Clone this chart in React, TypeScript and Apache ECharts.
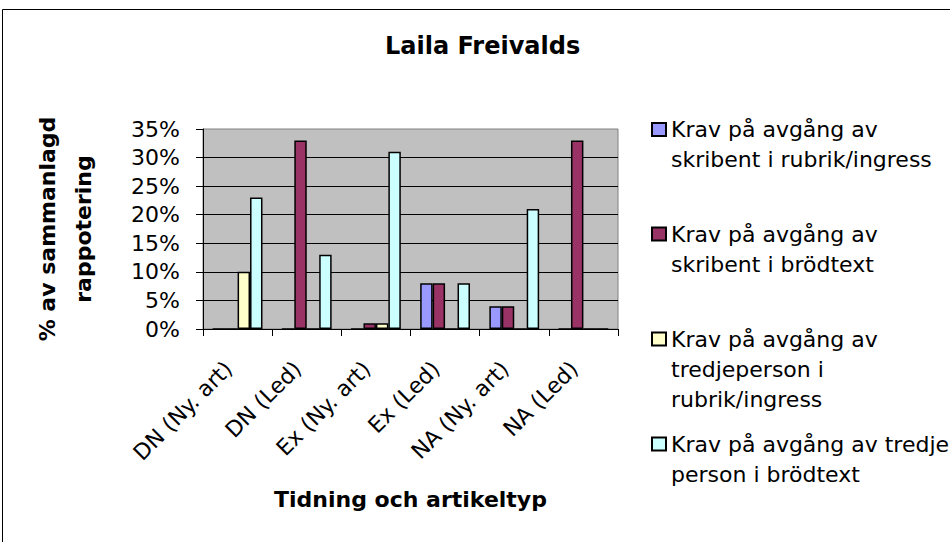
import React, { useEffect, useRef } from "react";
import * as echarts from "echarts";

const categories = ["DN (Ny. art)", "DN (Led)", "Ex (Ny. art)", "Ex (Led)", "NA (Ny. art)", "NA (Led)"];

const seriesNames = [
  "Krav på avgång av skribent i rubrik/ingress",
  "Krav på avgång av skribent i brödtext",
  "Krav på avgång av tredjeperson i rubrik/ingress",
  "Krav på avgång av tredje person i brödtext",
];

// Legend text lines as wrapped in the reference
const legendLines = [
  ["Krav på avgång av", "skribent i rubrik/ingress"],
  ["Krav på avgång av", "skribent i brödtext"],
  ["Krav på avgång av", "tredjeperson i", "rubrik/ingress"],
  ["Krav på avgång av tredje", "person i brödtext"],
];

const skribentRubrik = [0, 0, 0, 8, 4, 0];
const skribentBrodtext = [0, 33, 1, 8, 4, 33];
const tredjeRubrik = [10, 0, 1, 0, 0, 0];
const tredjeBrodtext = [23, 13, 31, 8, 21, 0];

const seriesValues = [skribentRubrik, skribentBrodtext, tredjeRubrik, tredjeBrodtext];
const seriesColors = ["#9999FF", "#993366", "#FFFFCC", "#CCFFFF"];

const yTicks = [0, 5, 10, 15, 20, 25, 30, 35];

const FONT = "DejaVu Sans";

export default function App() {
  const ref = useRef<HTMLDivElement>(null);

  useEffect(() => {
    if (!ref.current) return;
    const chart = echarts.init(ref.current, null, { renderer: "svg" });

    const legendCenters = [129.5, 234, 339, 444];
    const LH = 30;

    const legends = seriesNames.map((name, i) => {
      const lines = legendLines[i];
      const pad = lines.length - 1;
      const text = Array(pad).fill("").concat(lines).join("\n");
      const total = pad + lines.length;
      return {
        data: [name],
        orient: "vertical",
        left: 651,
        top: legendCenters[i] - (total * LH) / 2,
        padding: 0,
        itemWidth: 14,
        itemHeight: 13,
        icon: "rect",
        selectedMode: false,
        formatter: () => text,
        textStyle: {
          fontFamily: FONT,
          fontSize: 22,
          lineHeight: LH,
          color: "#000",
        },
      };
    });

    chart.setOption({
      animation: false,
      backgroundColor: "#ffffff",
      title: {
        text: "Laila Freivalds",
        left: 385,
        top: 34,
        padding: 0,
        textStyle: {
          fontFamily: FONT,
          fontSize: 24,
          fontWeight: "bold",
          color: "#000",
        },
      },
      legend: legends,
      graphic: [
        {
          type: "rect",
          shape: { x: 2.5, y: 9.5, width: 1000, height: 600 },
          style: { fill: "none", stroke: "#000", lineWidth: 1 },
          silent: true,
        },
      ],
      grid: {
        left: 203,
        right: 332,
        top: 129,
        bottom: 213,
        show: true,
        backgroundColor: "#C0C0C0",
        borderColor: "#808080",
        borderWidth: 1,
      },
      xAxis: {
        type: "category",
        data: categories,
        name: "Tidning och artikeltyp",
        nameLocation: "middle",
        nameGap: 159,
        nameTextStyle: {
          fontFamily: FONT,
          fontSize: 22,
          fontWeight: "bold",
          color: "#000",
        },
        axisLine: { lineStyle: { color: "#000", width: 1 } },
        axisTick: { show: true, length: 7, lineStyle: { color: "#000" } },
        axisLabel: {
          rotate: 45,
          margin: 27,
          padding: [0, 13, 0, 0],
          fontFamily: FONT,
          fontSize: 22,
          color: "#000",
          interval: 0,
        },
        splitLine: { show: false },
      },
      yAxis: {
        type: "value",
        min: yTicks[0],
        max: yTicks[yTicks.length - 1],
        interval: 5,
        name: "% av sammanlagd\nrappotering",
        nameLocation: "middle",
        nameRotate: 90,
        nameGap: 102,
        nameTextStyle: {
          fontFamily: FONT,
          fontSize: 22,
          fontWeight: "bold",
          lineHeight: 36,
          color: "#000",
          align: "center",
        },
        axisLine: { show: true, lineStyle: { color: "#000", width: 1 } },
        axisTick: { show: true, length: 7, lineStyle: { color: "#000" } },
        axisLabel: {
          formatter: "{value}%",
          margin: 23,
          fontFamily: FONT,
          fontSize: 22,
          color: "#000",
        },
        splitLine: {
          show: true,
          showMinLine: false,
          showMaxLine: false,
          lineStyle: { color: "#000", width: 1 },
        },
      },
      series: seriesNames.map((name, i) => ({
        name,
        type: "bar",
        data: seriesValues[i],
        barGap: "0%",
        barCategoryGap: "28%",
        itemStyle: {
          color: seriesColors[i],
          borderColor: "#000",
          borderWidth: 1.5,
        },
      })),
    });

    return () => chart.dispose();
  }, []);

  return (
    <div
      ref={ref}
      style={{ position: "absolute", left: 0, top: 0, width: 950, height: 542 }}
    />
  );
}
